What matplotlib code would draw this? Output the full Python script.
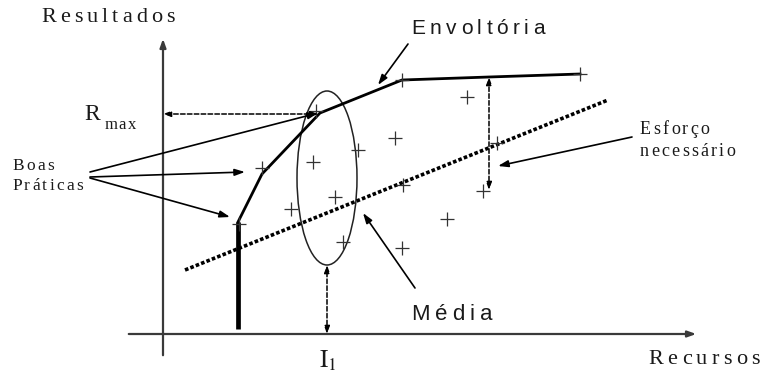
import matplotlib
matplotlib.use("Agg")
import matplotlib.pyplot as plt
from matplotlib.patches import Ellipse
from matplotlib.transforms import ScaledTranslation
import numpy as np

plt.rcParams["mathtext.fontset"] = "stix"

# diagram coordinates: origin where the two axes cross
env_x = [75, 75, 99, 157, 239, 326, 417]
env_y = [5, 112, 160, 221, 254, 257, 260]

pts_x = [76, 99, 150, 195, 153, 232, 239, 304, 334, 417, 128, 172, 180, 240, 284, 320, 239]
pts_y = [110, 166, 172, 184, 223, 196, 254, 237, 191, 260, 125, 137, 92, 149, 115, 143, 86]

mean_x = [22, 445]
mean_y = [64, 234]

ell_center = (164, 156)
ell_w, ell_h = 60, 174

rmax_y = 220
i1_x = 164
esf_x = 326

fig = plt.figure(figsize=(7.6, 3.72), dpi=100)
ax = fig.add_axes([0, 0, 1, 1])
ax.set_xlim(-163, 597)
ax.set_ylim(-38, 334)
ax.axis("off")

DPI = fig.dpi
renderer = fig.canvas.get_renderer()


def spaced(x, y, s, gap, ha="center", **kw):
    widths = []
    for ch in s:
        t = ax.text(0, 0, ch, **kw)
        widths.append(t.get_window_extent(renderer).width)
        t.remove()
    total = sum(widths) + gap * (len(s) - 1)
    start = -total / 2 if ha == "center" else 0
    for ch, w in zip(s, widths):
        tr = ax.transData + ScaledTranslation(start / DPI, 0, fig.dpi_scale_trans)
        ax.text(x, y, ch, transform=tr, ha="left", va="center", **kw)
        start += w + gap


axc = "#3a3a3a"
# axes
ax.annotate("", xy=(0, 298), xytext=(0, -24),
            arrowprops=dict(arrowstyle="-|>,head_length=0.5,head_width=0.18", lw=1.6, color=axc))
ax.annotate("", xy=(536, 0), xytext=(-37, 0),
            arrowprops=dict(arrowstyle="-|>,head_length=0.5,head_width=0.18", lw=1.6, color=axc))

# mean line
ax.plot(mean_x, mean_y, color="black", lw=2.6, linestyle=(0, (1, 0.6)))

# ellipse
ax.add_patch(Ellipse(ell_center, ell_w, ell_h, fill=False, lw=1.1, color="#222"))

# envelope
ax.plot(env_x[:2], env_y[:2], color="black", lw=3.4, solid_capstyle="butt")
ax.plot(env_x[1:], env_y[1:], color="black", lw=2.0)

# scattered points
ax.plot(pts_x, pts_y, linestyle="none", marker="+", markersize=10, mew=0.9, color="#333")

# dashed double arrows
dstyle = dict(arrowstyle="<|-|>,head_length=0.45,head_width=0.16", lw=1.1,
              linestyle=(0, (3, 1.5)), color="black", shrinkA=0, shrinkB=0)
ax.annotate("", xy=(0, rmax_y), xytext=(155, rmax_y), arrowprops=dstyle)
ax.annotate("", xy=(i1_x, 69), xytext=(i1_x, 0), arrowprops=dstyle)
ax.annotate("", xy=(esf_x, 257), xytext=(esf_x, 144), arrowprops=dstyle)

# label arrows
astyle = dict(arrowstyle="-|>,head_length=0.6,head_width=0.2", lw=1.2, color="black",
              shrinkA=0, shrinkB=0)
ax.annotate("", xy=(155, 221), xytext=(-73, 162), arrowprops=astyle)
ax.annotate("", xy=(82, 162), xytext=(-73, 157), arrowprops=astyle)
ax.annotate("", xy=(67, 117), xytext=(-73, 156), arrowprops=astyle)
ax.annotate("", xy=(215, 249), xytext=(245, 290), arrowprops=astyle)
ax.annotate("", xy=(335, 168), xytext=(469, 197), arrowprops=astyle)
ax.annotate("", xy=(200, 121), xytext=(252, 46), arrowprops=astyle)

serif = dict(family="Liberation Serif", color="#1a1a1a")
sans = dict(family="Liberation Sans", color="#1a1a1a")

spaced(-55, 316, "Resultados", 4.0, fontsize=16, **serif)
spaced(541, -25, "Recursos", 4.3, fontsize=16, **serif)
ax.text(-71, 219, "R", fontsize=17, ha="center", va="center", **serif)
spaced(-43, 209, "max", 1.5, fontsize=12, **serif)
ax.text(165, -27, r"$\mathrm{I}_1$", fontsize=18, ha="center", va="center", color="#1a1a1a")

spaced(-151, 168, "Boas", 2.5, ha="left", fontsize=12.5, **serif)
spaced(-151, 148, "Práticas", 2.3, ha="left", fontsize=12.5, **serif)
spaced(477, 204, "Esforço", 2.3, ha="left", fontsize=13, **serif)
spaced(477, 182, "necessário", 2.2, ha="left", fontsize=13, **serif)

spaced(315, 305, "Envoltória", 4.5, fontsize=15, **sans)
spaced(289, 20, "Média", 5.0, fontsize=16, **sans)

fig.savefig("out.png", dpi=100)
